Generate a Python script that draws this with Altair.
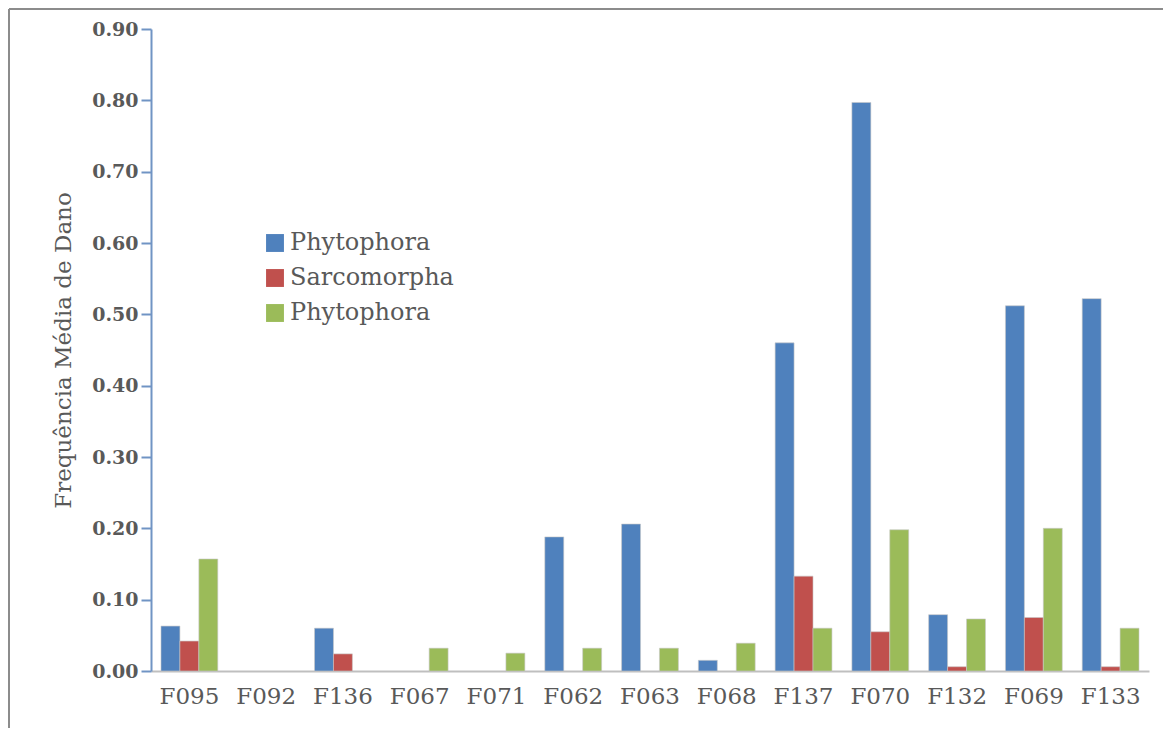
import altair as alt
import pandas as pd

categories = ["F095", "F092", "F136", "F067", "F071", "F062", "F063",
              "F068", "F137", "F070", "F132", "F069", "F133"]
series_keys = ["A", "B", "C"]
series_names = ["Phytophora", "Sarcomorpha", "Phytophora"]
colors = ["#4F81BD", "#C0504D", "#9BBB59"]

phytophora_1 = [0.063, 0.0, 0.060, 0.0, 0.0, 0.188, 0.206, 0.015, 0.460, 0.797, 0.079, 0.512, 0.522]
sarcomorpha = [0.042, 0.0, 0.024, 0.0, 0.0, 0.0, 0.0, 0.0, 0.133, 0.055, 0.006, 0.075, 0.006]
phytophora_2 = [0.157, 0.0, 0.0, 0.032, 0.025, 0.032, 0.032, 0.039, 0.060, 0.198, 0.073, 0.200, 0.060]

rows = []
for key, vals in zip(series_keys, [phytophora_1, sarcomorpha, phytophora_2]):
    for c, v in zip(categories, vals):
        rows.append({"cat": c, "series": key, "value": v})
df = pd.DataFrame(rows)

FONT = "DejaVu Serif"
TXT = "#595959"

label_expr = "datum.label == 'A' ? 'Phytophora' : (datum.label == 'B' ? 'Sarcomorpha' : 'Phytophora')"

bars = alt.Chart(df).transform_filter("datum.value > 0").mark_bar(stroke="#c8c8c8", strokeWidth=0.6).encode(
    x=alt.X("cat:N", sort=categories,
            scale=alt.Scale(domain=categories, paddingInner=0.26, paddingOuter=0.13),
            axis=alt.Axis(title=None, labelAngle=0, ticks=False, labelFont=FONT,
                          labelFontSize=23, labelColor=TXT, labelPadding=14,
                          domainColor="#bfbfbf", domainWidth=2)),
    xOffset=alt.XOffset("series:N", sort=series_keys,
                        scale=alt.Scale(domain=series_keys, paddingInner=0, paddingOuter=0)),
    y=alt.Y("value:Q", scale=alt.Scale(domain=[0, 0.9], nice=False),
            axis=alt.Axis(title="Frequência Média de Dano", format=".2f", values=[i / 10 for i in range(10)],
                          grid=False, labelFont=FONT, labelFontSize=19, labelColor=TXT,
                          labelFontWeight="bold",
                          titleFont=FONT, titleFontSize=23, titleColor=TXT, titleFontWeight="normal",
                          titlePadding=16,
                          domainColor="#7094c4", domainWidth=2, tickColor="#7094c4",
                          tickSize=10, tickWidth=2, labelPadding=3)),
    color=alt.Color("series:N", sort=series_keys,
                    scale=alt.Scale(domain=series_keys, range=colors),
                    legend=alt.Legend(title=None, orient="none", legendX=112, legendY=202,
                                      labelExpr=label_expr, symbolType="square", symbolSize=320,
                                      symbolStrokeWidth=0, labelFont=FONT, labelFontSize=24,
                                      labelLimit=400,
                                      labelColor=TXT, labelOffset=3, rowPadding=11, padding=0)),
)

frame = alt.Chart(alt.Data(values=[{"k": 1}])).mark_rule(color="#8c8c8c", strokeWidth=2)
left_line = frame.encode(x=alt.value(-142), y=alt.value(-20), y2=alt.value(720))
top_line = frame.encode(x=alt.value(-142), x2=alt.value(1020), y=alt.value(-20))

chart = alt.layer(bars, left_line, top_line).properties(
    width=998, height=642,
    autosize=alt.AutoSizeParams(type="none"),
    padding={"left": 143, "top": 21, "right": 14, "bottom": 57},
).configure_view(stroke=None)

chart.save("out.html", embed_options={"renderer": "svg", "actions": False})
